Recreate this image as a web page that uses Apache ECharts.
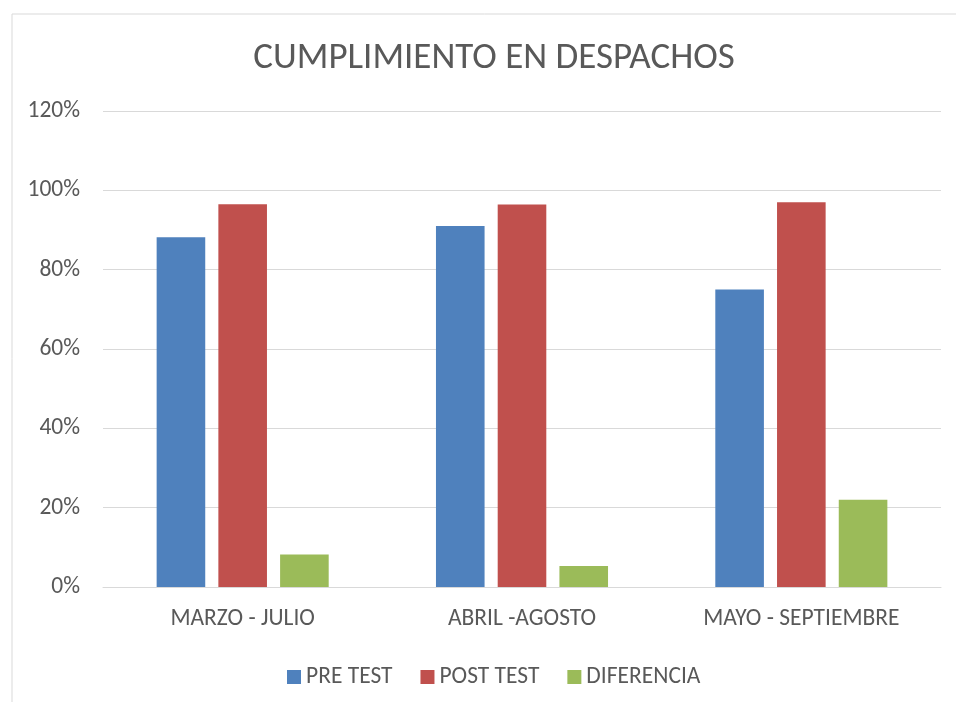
<!DOCTYPE html>
<html>
<head>
<meta charset="utf-8">
<script src="https://cdn.jsdelivr.net/npm/echarts@6/dist/echarts.min.js"></script>
<style>
html,body{margin:0;padding:0;background:#fff;}
#c{width:956px;height:702px;}
</style>
</head>
<body>
<div id="c"></div>
<script>
var categories = ['MARZO - JULIO', 'ABRIL -AGOSTO', 'MAYO - SEPTIEMBRE'];
var preTest = [88.2, 91.0, 75.0];
var postTest = [96.5, 96.4, 97.0];
var diferencia = [8.2, 5.3, 22.0];
var yTicks = {min: 0, max: 120, interval: 20};

var FONT = 'Carlito, Lato, "Liberation Sans", sans-serif';
var TXT = '#595959';
var chart = echarts.init(document.getElementById('c'));
chart.setOption({
  animation: false,
  backgroundColor: '#fff',
  graphic: [{
    type: 'rect', left: 9.5, top: 11.5, silent: true,
    shape: {x: 0, y: 0, width: 980, height: 720},
    style: {fill: 'none', stroke: '#d9d9d9', lineWidth: 1}
  }],
  title: {
    text: 'CUMPLIMIENTO EN DESPACHOS',
    left: 489, top: 35, textAlign: 'center',
    textStyle: {fontFamily: FONT, fontSize: 37, fontWeight: 'normal', color: TXT}
  },
  legend: {
    left: 282, top: 660,
    itemWidth: 14, itemHeight: 14, itemGap: 28,
    icon: 'rect',
    textStyle: {fontFamily: FONT, fontSize: 23.5, color: TXT, padding: [0, 0, 0, 0]},
    data: ['PRE TEST', 'POST TEST', 'DIFERENCIA']
  },
  grid: {left: 103, right: 15, top: 111, bottom: 115, containLabel: false},
  xAxis: {
    type: 'category', data: categories,
    axisLine: {lineStyle: {color: '#d9d9d9', width: 1}},
    axisTick: {show: false},
    axisLabel: {fontFamily: FONT, fontSize: 23.5, color: TXT, margin: 20}
  },
  yAxis: {
    type: 'value', min: yTicks.min, max: yTicks.max, interval: yTicks.interval,
    axisLine: {show: false}, axisTick: {show: false},
    splitLine: {lineStyle: {color: '#d9d9d9', width: 1}},
    axisLabel: {fontFamily: FONT, fontSize: 23.5, color: TXT, margin: 23, formatter: '{value}%'}
  },
  series: [
    {name: 'PRE TEST', type: 'bar', data: preTest, barWidth: '17.4%', barGap: '27%', itemStyle: {color: '#4F81BD'}},
    {name: 'POST TEST', type: 'bar', data: postTest, barWidth: '17.4%', barGap: '27%', itemStyle: {color: '#C0504D'}},
    {name: 'DIFERENCIA', type: 'bar', data: diferencia, barWidth: '17.4%', barGap: '27%', itemStyle: {color: '#9BBB59'}}
  ]
});
</script>
</body>
</html>
